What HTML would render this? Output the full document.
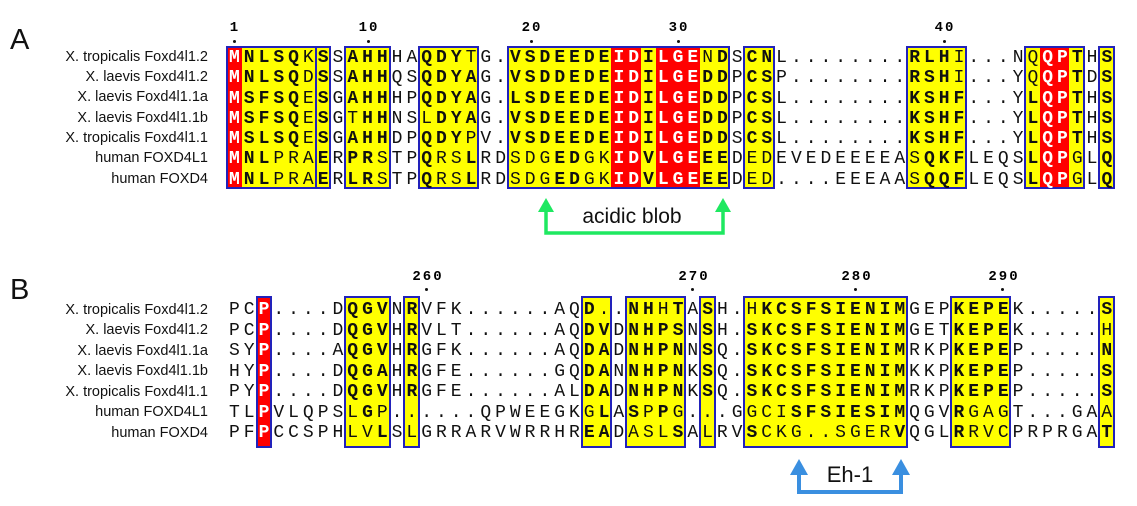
<!DOCTYPE html>
<html><head><meta charset="utf-8"><style>
body{margin:0;width:1137px;height:506px;background:#fff;position:relative;overflow:hidden;font-family:"Liberation Sans",Arial,sans-serif}
.abs{position:absolute}
.lab{position:absolute;right:929px;font-size:14.5px;color:#111;white-space:nowrap;line-height:20px}
.seq{position:absolute;left:227px;font-family:"Liberation Mono",monospace;font-size:18px;letter-spacing:3.98px;padding-left:1.99px;white-space:nowrap;color:#111}
.seq div{height:20.3px;line-height:20.3px;white-space:nowrap}
.seqb div{height:20.5px;line-height:20.5px}
.r{color:#fff;font-weight:bold}
b{font-weight:bold}
.y{position:absolute;background:#ffff00}
.rd{position:absolute;background:#f00}
.bx{position:absolute;border:2px solid #2222bb;box-sizing:border-box}
.num{position:absolute;font-family:"Liberation Mono",monospace;font-weight:bold;font-size:14px;letter-spacing:2px;transform:translateX(-50%)}
.dot{position:absolute;width:3px;height:3px;background:#111;border-radius:50%}
.big{position:absolute;font-size:29px;color:#111}
</style></head><body>
<div class="big" style="left:10px;top:24px">A</div>
<div class="big" style="left:10px;top:274px">B</div>

<div class="lab" style="top:47px">X. tropicalis Foxd4l1.2</div>
<div class="lab" style="top:67px">X. laevis Foxd4l1.2</div>
<div class="lab" style="top:87px">X. laevis Foxd4l1.1a</div>
<div class="lab" style="top:108px">X. laevis Foxd4l1.1b</div>
<div class="lab" style="top:128px">X. tropicalis Foxd4l1.1</div>
<div class="lab" style="top:148px">human FOXD4L1</div>
<div class="lab" style="top:169px">human FOXD4</div>

<div class="y" style="left:227px;top:47px;width:89px;height:142px"></div>
<div class="y" style="left:315.7px;top:47px;width:14.8px;height:142px"></div>
<div class="y" style="left:345.2px;top:47px;width:44.4px;height:142px"></div>
<div class="y" style="left:419.1px;top:47px;width:59.2px;height:142px"></div>
<div class="y" style="left:507.8px;top:47px;width:221.7px;height:142px"></div>
<div class="y" style="left:744.3px;top:47px;width:29.6px;height:142px"></div>
<div class="y" style="left:906.9px;top:47px;width:59.1px;height:142px"></div>
<div class="y" style="left:1025.1px;top:47px;width:59.1px;height:142px"></div>
<div class="y" style="left:1099px;top:47px;width:14.8px;height:142px"></div>
<div class="rd" style="left:227px;top:47px;width:14.8px;height:142px"></div>
<div class="rd" style="left:611.3px;top:47px;width:29.6px;height:142px"></div>
<div class="rd" style="left:655.6px;top:47px;width:44.4px;height:142px"></div>
<div class="rd" style="left:1039.9px;top:47px;width:29.5px;height:142px"></div>
<div class="bx" style="left:226px;top:46px;width:91px;height:143px"></div>
<div class="bx" style="left:314.7px;top:46px;width:16.8px;height:143px"></div>
<div class="bx" style="left:344.2px;top:46px;width:46.4px;height:143px"></div>
<div class="bx" style="left:418.1px;top:46px;width:61.2px;height:143px"></div>
<div class="bx" style="left:506.8px;top:46px;width:223.7px;height:143px"></div>
<div class="bx" style="left:743.3px;top:46px;width:31.6px;height:143px"></div>
<div class="bx" style="left:905.9px;top:46px;width:61.1px;height:143px"></div>
<div class="bx" style="left:1024.1px;top:46px;width:61.1px;height:143px"></div>
<div class="bx" style="left:1098px;top:46px;width:16.8px;height:143px"></div>

<div class="num" style="left:235px;top:20px">1</div><div class="dot" style="left:233px;top:40px"></div>
<div class="num" style="left:369px;top:20px">10</div><div class="dot" style="left:367px;top:40px"></div>
<div class="num" style="left:532px;top:20px">20</div><div class="dot" style="left:530px;top:40px"></div>
<div class="num" style="left:679px;top:20px">30</div><div class="dot" style="left:677px;top:40px"></div>
<div class="num" style="left:945px;top:20px">40</div><div class="dot" style="left:943px;top:40px"></div>

<div class="seq" style="top:48px"><div><span class="r">M</span><b>NLSQ</b>K<b>S</b>S<b>AHH</b>HA<b>QDY</b>TG.<b>VSDEEDE</b><span class="r">ID</span><b>I</b><span class="r">LGE</span>N<b>D</b>S<b>CN</b>L........<b>RLH</b>I...NQ<span class="r">QP</span><b>T</b>H<b>S</b></div><div><span class="r">M</span><b>NLSQ</b>D<b>S</b>S<b>AHH</b>QS<b>QDYA</b>G.<b>VSDDEDE</b><span class="r">ID</span><b>I</b><span class="r">LGE</span><b>DD</b>P<b>CS</b>P........<b>RSH</b>I...YQ<span class="r">QP</span><b>T</b>D<b>S</b></div><div><span class="r">M</span><b>SFSQ</b>E<b>S</b>G<b>AHH</b>HP<b>QDYA</b>G.<b>LSDEEDE</b><span class="r">ID</span><b>I</b><span class="r">LGE</span><b>DD</b>P<b>CS</b>L........<b>KSHF</b>...Y<b>L</b><span class="r">QP</span><b>T</b>H<b>S</b></div><div><span class="r">M</span><b>SFSQ</b>E<b>S</b>GT<b>HH</b>NSL<b>DYA</b>G.<b>VSDEEDE</b><span class="r">ID</span><b>I</b><span class="r">LGE</span><b>DD</b>P<b>CS</b>L........<b>KSHF</b>...Y<b>L</b><span class="r">QP</span><b>T</b>H<b>S</b></div><div><span class="r">M</span><b>SLSQ</b>E<b>S</b>G<b>AHH</b>DP<b>QDY</b>PV.<b>VSDEEDE</b><span class="r">ID</span><b>I</b><span class="r">LGE</span><b>DD</b>S<b>CS</b>L........<b>KSHF</b>...Y<b>L</b><span class="r">QP</span><b>T</b>H<b>S</b></div><div><span class="r">M</span><b>NL</b>PRA<b>E</b>R<b>PR</b>STP<b>Q</b>RS<b>L</b>RDSDG<b>ED</b>GK<span class="r">ID</span><b>V</b><span class="r">LGE</span><b>EE</b>DEDEVEDEEEEAS<b>QKF</b>LEQS<b>L</b><span class="r">QP</span>GL<b>Q</b></div><div><span class="r">M</span><b>NL</b>PRA<b>E</b>R<b>LR</b>STP<b>Q</b>RS<b>L</b>RDSDG<b>ED</b>GK<span class="r">ID</span><b>V</b><span class="r">LGE</span><b>EE</b>DED....EEEAAS<b>QQF</b>LEQS<b>L</b><span class="r">QP</span>GL<b>Q</b></div></div>

<svg class="abs" style="left:0;top:0" width="1137" height="506">
<g stroke="#1ee860" stroke-width="3.5" fill="none"><polyline points="546,212 546,233 723,233 723,212"/></g>
<polygon points="538,212 554,212 546,198" fill="#1ee860"/>
<polygon points="715,212 731,212 723,198" fill="#1ee860"/>
<g stroke="#3a8fe0" stroke-width="4" fill="none"><polyline points="799,474 799,492 901,492 901,474"/></g>
<polygon points="790,475 808,475 799,459" fill="#3a8fe0"/>
<polygon points="892,475 910,475 901,459" fill="#3a8fe0"/>
<text x="632" y="223" font-family="Liberation Sans, Arial, sans-serif" font-size="21" text-anchor="middle" fill="#111">acidic blob</text>
<text x="850" y="482" font-family="Liberation Sans, Arial, sans-serif" font-size="22" text-anchor="middle" fill="#111">Eh-1</text>
</svg>

<div class="lab" style="top:300px">X. tropicalis Foxd4l1.2</div>
<div class="lab" style="top:320px">X. laevis Foxd4l1.2</div>
<div class="lab" style="top:341px">X. laevis Foxd4l1.1a</div>
<div class="lab" style="top:361px">X. laevis Foxd4l1.1b</div>
<div class="lab" style="top:382px">X. tropicalis Foxd4l1.1</div>
<div class="lab" style="top:402px">human FOXD4L1</div>
<div class="lab" style="top:423px">human FOXD4</div>

<div class="y" style="left:345.2px;top:297px;width:44.4px;height:150px"></div>
<div class="y" style="left:404.4px;top:297px;width:14.8px;height:150px"></div>
<div class="y" style="left:581.7px;top:297px;width:29.6px;height:150px"></div>
<div class="y" style="left:626px;top:297px;width:59.2px;height:150px"></div>
<div class="y" style="left:700px;top:297px;width:14.7px;height:150px"></div>
<div class="y" style="left:744.3px;top:297px;width:162.6px;height:150px"></div>
<div class="y" style="left:951.3px;top:297px;width:59.1px;height:150px"></div>
<div class="y" style="left:1099px;top:297px;width:14.8px;height:150px"></div>
<div class="rd" style="left:256.6px;top:297px;width:14.7px;height:150px"></div>
<div class="bx" style="left:255.6px;top:296px;width:16.7px;height:152px"></div>
<div class="bx" style="left:344.2px;top:296px;width:46.4px;height:152px"></div>
<div class="bx" style="left:403.4px;top:296px;width:16.8px;height:152px"></div>
<div class="bx" style="left:580.7px;top:296px;width:31.6px;height:152px"></div>
<div class="bx" style="left:625px;top:296px;width:61.2px;height:152px"></div>
<div class="bx" style="left:699px;top:296px;width:16.7px;height:152px"></div>
<div class="bx" style="left:743.3px;top:296px;width:164.6px;height:152px"></div>
<div class="bx" style="left:950.3px;top:296px;width:61.1px;height:152px"></div>
<div class="bx" style="left:1098px;top:296px;width:16.8px;height:152px"></div>

<div class="num" style="left:428px;top:269px">260</div><div class="dot" style="left:425px;top:288px"></div>
<div class="num" style="left:694px;top:269px">270</div><div class="dot" style="left:691px;top:288px"></div>
<div class="num" style="left:857px;top:269px">280</div><div class="dot" style="left:854px;top:288px"></div>
<div class="num" style="left:1004px;top:269px">290</div><div class="dot" style="left:1001px;top:288px"></div>

<div class="seq seqb" style="top:300px"><div>PC<span class="r">P</span>....D<b>QGV</b>N<b>R</b>VFK......AQ<b>D</b>..<b>NH</b>H<b>T</b>A<b>S</b>H.H<b>KCSFSIENIM</b>GEP<b>KEPE</b>K.....<b>S</b></div><div>PC<span class="r">P</span>....D<b>QGV</b>H<b>R</b>VLT......AQ<b>DV</b>D<b>NHPS</b>N<b>S</b>H.<b>SKCSFSIENIM</b>GET<b>KEPE</b>K.....H</div><div>SY<span class="r">P</span>....A<b>QGV</b>H<b>R</b>GFK......AQ<b>DA</b>D<b>NHPN</b>N<b>S</b>Q.<b>SKCSFSIENIM</b>RKP<b>KEPE</b>P.....<b>N</b></div><div>HY<span class="r">P</span>....D<b>QGA</b>H<b>R</b>GFE......GQ<b>DA</b>N<b>NHPN</b>K<b>S</b>Q.<b>SKCSFSIENIM</b>KKP<b>KEPE</b>P.....<b>S</b></div><div>PY<span class="r">P</span>....D<b>QGV</b>H<b>R</b>GFE......AL<b>DA</b>D<b>NHPN</b>K<b>S</b>Q.<b>SKCSFSIENIM</b>RKP<b>KEPE</b>P.....<b>S</b></div><div>TL<span class="r">P</span>VLQPSL<b>G</b>P......QPWEEGKG<b>L</b>A<b>S</b>P<b>P</b>G...GGCI<b>SFSIESIM</b>QGV<b>R</b>GAGT...GAA</div><div>PF<span class="r">P</span>CCSPHLV<b>L</b>SLGRRARVWRRHR<b>EA</b>DASL<b>S</b>ALRV<b>S</b>CKG..SGER<b>V</b>QGL<b>R</b>RVCPRPRGA<b>T</b></div></div>
</body></html>
